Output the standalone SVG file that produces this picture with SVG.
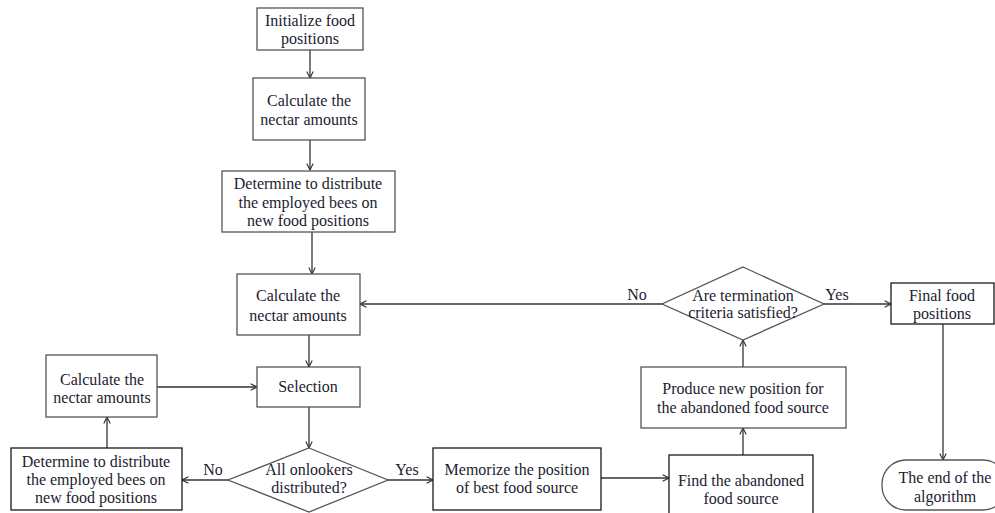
<svg xmlns="http://www.w3.org/2000/svg" width="995" height="513" viewBox="0 0 995 513">
<defs>
<style>
.b{fill:#fff;stroke:#555;stroke-width:1.3}
.d{fill:#fff;stroke:#1a1a1a;stroke-width:1.3}
text{font-family:"Liberation Serif","Times New Roman",serif;font-size:16px;fill:#1c1c30;text-anchor:middle}
.c line{stroke:#333;stroke-width:1.3;marker-end:url(#ah)}
</style>
<marker id="ah" viewBox="0 0 10 10" refX="9" refY="5" markerWidth="8" markerHeight="8" markerUnits="userSpaceOnUse" orient="auto">
<path d="M1,1 L9,5 L1,9" fill="none" stroke="#333" stroke-width="1.4"/>
</marker>
</defs>
<rect width="995" height="513" fill="#fff"/>
<g class="c" id="connectors">
<line x1="310" y1="50" x2="310" y2="78"/>
<line x1="310" y1="140" x2="310" y2="170"/>
<line x1="312" y1="232" x2="312" y2="274"/>
<line x1="309" y1="335" x2="309" y2="367"/>
<line x1="309" y1="407" x2="309" y2="448"/>
<line x1="157" y1="387" x2="257" y2="387"/>
<line x1="107" y1="448" x2="107" y2="417"/>
<line x1="228" y1="480" x2="182" y2="480"/>
<line x1="388" y1="480" x2="433" y2="480"/>
<line x1="601" y1="478" x2="669" y2="478"/>
<line x1="743" y1="455" x2="743" y2="428"/>
<line x1="743" y1="367" x2="743" y2="340"/>
<line x1="662" y1="304" x2="360" y2="304"/>
<line x1="824" y1="304" x2="891" y2="304"/>
<line x1="943" y1="324" x2="943" y2="460"/>
<text x="637" y="300">No</text>
<text x="837" y="300">Yes</text>
<text x="213" y="475">No</text>
<text x="407" y="475">Yes</text>
</g>
<g id="init"><rect class="b" x="257" y="8" width="106" height="42"/><text x="310" y="26">Initialize food</text><text x="310" y="43.5">positions</text></g>
<g id="calc1"><rect class="b" x="253" y="78" width="112" height="62"/><text x="309" y="106">Calculate the</text><text x="309" y="125">nectar amounts</text></g>
<g id="determine1"><rect class="b" x="222" y="171" width="173" height="61"/><text x="308" y="189">Determine to distribute</text><text x="308" y="208">the employed bees on</text><text x="308" y="226">new food positions</text></g>
<g id="calc2"><rect class="b" x="237" y="274" width="123" height="61"/><text x="298" y="301">Calculate the</text><text x="298" y="321">nectar amounts</text></g>
<g id="selection"><rect class="b" x="257" y="367" width="103" height="40"/><text x="308" y="392">Selection</text></g>
<g id="calc3"><rect class="b" x="46" y="355" width="111" height="62"/><text x="102" y="385">Calculate the</text><text x="102" y="403">nectar amounts</text></g>
<g id="determine2"><rect class="d" x="11" y="448" width="171" height="62"/><text x="96" y="467">Determine to distribute</text><text x="96" y="485">the employed bees on</text><text x="96" y="503">new food positions</text></g>
<g id="onlookers"><polygon class="b" points="309,448 388,480 309,512 228,480"/><text x="309" y="475">All onlookers</text><text x="309" y="493">distributed?</text></g>
<g id="memorize"><rect class="d" x="433" y="448" width="168" height="62"/><text x="517" y="475">Memorize the position</text><text x="517" y="493">of best food source</text></g>
<g id="find"><rect class="d" x="669" y="455" width="144" height="62"/><text x="741" y="486">Find the abandoned</text><text x="741" y="503.5">food source</text></g>
<g id="produce"><rect class="b" x="641" y="367" width="205" height="61"/><text x="743" y="394">Produce new position for</text><text x="743" y="413">the abandoned food source</text></g>
<g id="termination"><polygon class="b" points="743,267 824,304 743,340 662,304"/><text x="743" y="300.5">Are termination</text><text x="743" y="318">criteria satisfied?</text></g>
<g id="final"><rect class="d" x="891" y="283" width="103" height="41"/><text x="942" y="301">Final food</text><text x="942" y="318.5">positions</text></g>
<g id="end"><rect class="b" x="882" y="460" width="125" height="50" rx="24"/><text x="945" y="483">The end of the</text><text x="945" y="502">algorithm</text></g>
</svg>
